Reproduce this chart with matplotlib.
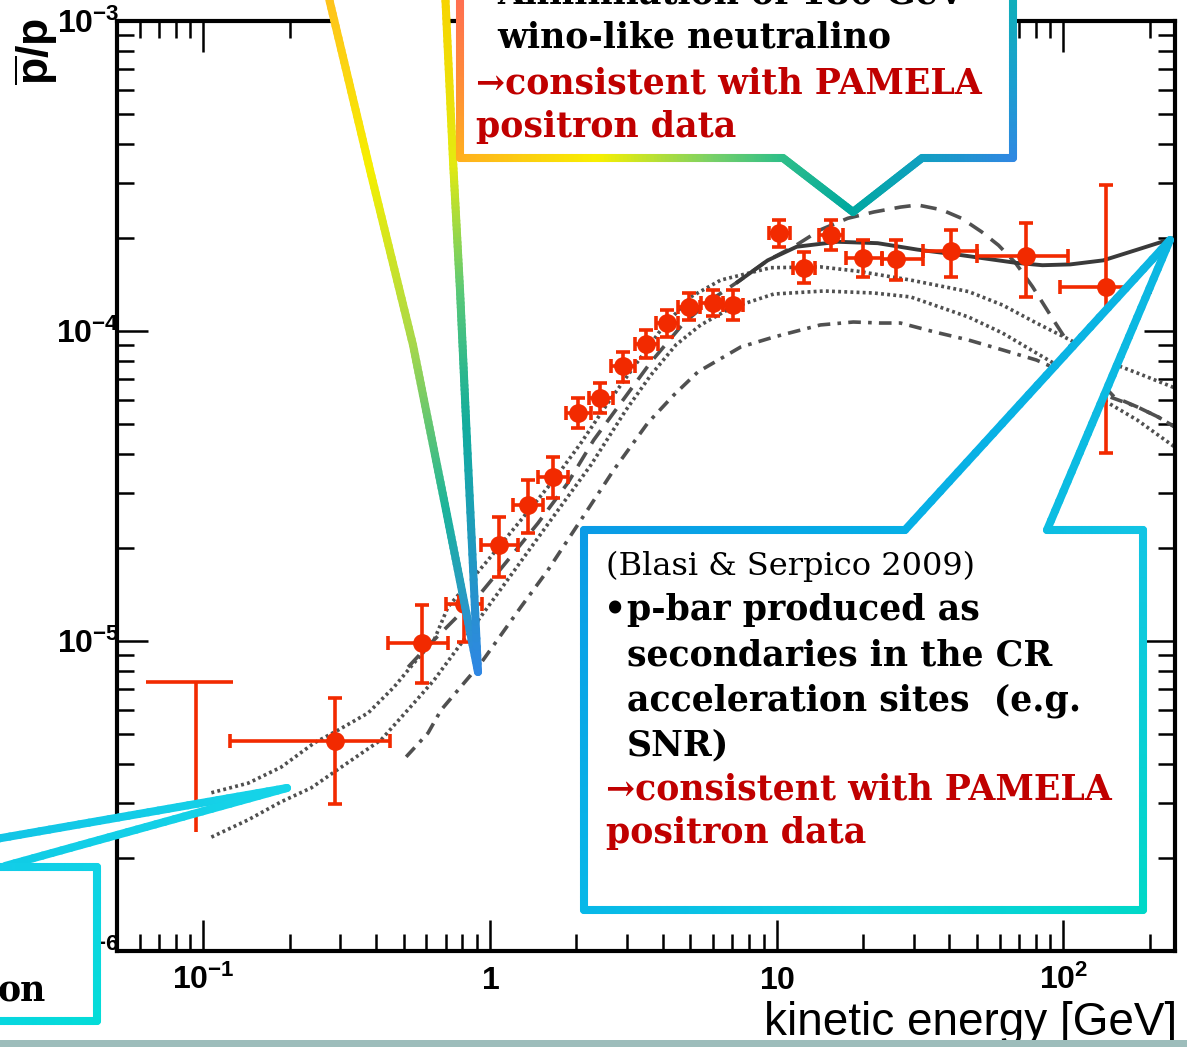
import numpy as np
import matplotlib
matplotlib.use("Agg")
import matplotlib.pyplot as plt
from matplotlib.collections import LineCollection
from matplotlib.patches import Polygon, Rectangle
from matplotlib.colors import to_rgb
from matplotlib.ticker import FixedLocator, FixedFormatter, LogLocator, NullFormatter

plt.rcParams["mathtext.fontset"] = "custom"
plt.rcParams["mathtext.rm"] = "Liberation Sans"
plt.rcParams["mathtext.it"] = "Liberation Sans:italic"
plt.rcParams["mathtext.bf"] = "Liberation Sans:bold"

# --- measured p-bar/p ratio ---
energy = [0.288, 0.579, 0.812, 1.075, 1.356, 1.658, 2.03, 2.42, 2.91, 3.50, 4.14,
          4.94, 5.98, 7.03, 10.16, 12.42, 15.42, 19.94, 25.97, 40.4, 74.3, 141]
energy_lo = [0.124, 0.441, 0.703, 0.930, 1.20, 1.47, 1.84, 2.21, 2.64, 3.20, 3.79,
             4.52, 5.43, 6.48, 9.38, 11.37, 14.0, 17.39, 23.2, 32.3, 49.8, 97.6]
energy_hi = [0.449, 0.714, 0.938, 1.252, 1.53, 1.87, 2.25, 2.68, 3.20, 3.85, 4.52,
             5.39, 6.48, 7.61, 11.10, 13.56, 16.98, 23.2, 32.3, 49.8, 104.1, 201]
ratio = [4.76e-6, 9.86e-6, 1.32e-5, 2.04e-5, 2.75e-5, 3.38e-5, 5.44e-5, 6.08e-5, 7.71e-5,
         9.08e-5, 1.061e-4, 1.195e-4, 1.231e-4, 1.213e-4, 2.07e-4, 1.60e-4, 2.04e-4,
         1.72e-4, 1.71e-4, 1.81e-4, 1.75e-4, 1.39e-4]
ratio_hi = [6.55e-6, 1.31e-5, 1.39e-5, 2.51e-5, 3.31e-5, 3.92e-5, 6.08e-5, 6.8e-5, 8.56e-5,
            1.007e-4, 1.169e-4, 1.326e-4, 1.356e-4, 1.356e-4, 2.28e-4, 1.80e-4, 2.28e-4,
            1.97e-4, 1.97e-4, 2.12e-4, 2.23e-4, 2.96e-4]
ratio_lo = [2.98e-6, 7.32e-6, 9.93e-6, 1.61e-5, 2.23e-5, 2.89e-5, 4.87e-5, 5.44e-5, 6.85e-5,
            8.18e-5, 9.56e-5, 1.085e-4, 1.118e-4, 1.085e-4, 1.87e-4, 1.43e-4, 1.83e-4,
            1.49e-4, 1.46e-4, 1.49e-4, 1.29e-4, 4.04e-5]

# lowest-energy bin (limit)
ul_energy, ul_lo, ul_hi = 0.0946, 0.0633, 0.127
ul_ratio, ul_bottom = 7.38e-6, 2.42e-6

# --- model curves ---
upper_e = [0.1067, 0.1435, 0.187, 0.2437, 0.2954, 0.3758, 0.463, 0.543, 0.638, 0.714, 0.984,
           1.282, 1.671, 2.075, 2.577, 3.175, 3.94, 5.01, 6.38, 9.53, 14.2, 19.1, 29.3, 46.7,
           61.3, 80.5, 105.7, 137.7, 181, 245]
upper_r = [3.24e-6, 3.48e-6, 3.92e-6, 4.69e-6, 5.16e-6, 5.86e-6, 7.11e-6, 8.49e-6, 1.007e-5,
           1.288e-5, 1.824e-5, 2.456e-5, 3.31e-5, 4.35e-5, 5.86e-5, 7.66e-5, 1.007e-4, 1.288e-4,
           1.46e-4, 1.60e-4, 1.61e-4, 1.56e-4, 1.46e-4, 1.34e-4, 1.213e-4, 1.061e-4, 9.35e-5,
           8.06e-5, 7.32e-5, 6.55e-5]

middle_e = [0.1067, 0.1435, 0.187, 0.238, 0.303, 0.417, 0.543, 0.638, 0.859, 1.183, 1.63, 2.25,
            2.98, 3.64, 4.45, 5.43, 6.92, 9.76, 14.6, 21.8, 29.3, 46.7, 61.3, 80.5, 105.7,
            137.7, 181, 245]
middle_r = [2.33e-6, 2.65e-6, 3.03e-6, 3.36e-6, 3.92e-6, 4.80e-6, 6.31e-6, 7.48e-6, 1.085e-5,
            1.63e-5, 2.456e-5, 3.70e-5, 5.56e-5, 7.21e-5, 9.02e-5, 1.046e-4, 1.186e-4, 1.316e-4,
            1.346e-4, 1.326e-4, 1.288e-4, 1.109e-4, 9.85e-5, 8.49e-5, 7.32e-5, 5.99e-5, 5.16e-5,
            4.22e-5]

wino_e = [0.518, 0.589, 0.749, 0.930, 1.155, 1.47, 1.87, 2.30, 2.86, 3.64, 4.74, 5.89, 7.31,
          9.30, 11.46, 14.2, 17.7, 21.8, 27.0, 31.0, 37.6, 44.1, 51.8, 59.4, 68.0, 78.0, 92.3,
          102.4, 124.1, 150.6, 181, 214, 245]
wino_r = [8.24e-6, 9.36e-6, 1.17e-5, 1.43e-5, 1.824e-5, 2.40e-5, 3.24e-5, 4.45e-5, 5.86e-5,
          7.94e-5, 1.061e-4, 1.259e-4, 1.44e-4, 1.69e-4, 1.87e-4, 2.12e-4, 2.31e-4, 2.42e-4,
          2.51e-4, 2.55e-4, 2.46e-4, 2.31e-4, 2.09e-4, 1.89e-4, 1.66e-4, 1.39e-4, 1.085e-4,
          9.35e-5, 7.38e-5, 6.12e-5, 5.69e-5, 5.28e-5, 4.90e-5]

snr_e = [7.31, 9.30, 11.74, 16.3, 22.5, 31.0, 43.4, 68.0, 84.5, 105.7, 137.7, 181, 245]
snr_r = [1.44e-4, 1.69e-4, 1.87e-4, 1.94e-4, 1.92e-4, 1.83e-4, 1.76e-4, 1.66e-4, 1.63e-4,
         1.64e-4, 1.69e-4, 1.83e-4, 2.00e-4]

lower_e = [0.510, 0.608, 0.675, 0.930, 1.282, 1.59, 2.075, 2.70, 3.55, 4.38, 5.31, 7.49, 9.76,
           14.2, 18.5, 23.0, 27.0, 35.5, 46.7, 61.3, 80.5, 105.7, 145.8, 181, 214, 245]
lower_r = [4.23e-6, 5.05e-6, 5.99e-6, 8.49e-6, 1.288e-5, 1.69e-5, 2.456e-5, 3.56e-5, 5.05e-5,
           6.22e-5, 7.38e-5, 8.88e-5, 9.56e-5, 1.046e-4, 1.069e-4, 1.061e-4, 1.061e-4, 9.93e-5,
           9.35e-5, 8.69e-5, 8.06e-5, 7.21e-5, 6.12e-5, 5.69e-5, 5.28e-5, 4.90e-5]

x_ticks = [0.1, 1, 10, 100]
x_ticklabels = [r"$\mathbf{10^{-1}}$", r"$\mathbf{1}$", r"$\mathbf{10}$", r"$\mathbf{10^{2}}$"]
y_ticks = [1e-6, 1e-5, 1e-4, 1e-3]
y_ticklabels = [r"$\mathbf{10^{-6}}$", r"$\mathbf{10^{-5}}$", r"$\mathbf{10^{-4}}$",
                r"$\mathbf{10^{-3}}$"]

RED = "#f22a00"
W, H = 1187, 1047

fig = plt.figure(figsize=(W / 100, H / 100), dpi=100)
ax = fig.add_axes([117 / W, 1 - 951 / H, (1175 - 117) / W, (951 - 21) / H])
ax.set_xscale("log")
ax.set_yscale("log")
ax.set_xlim(0.05, 245)
ax.set_ylim(1e-6, 1e-3)

curve_kw = dict(color="#505050", lw=2.6)
ax.plot(upper_e, upper_r, linestyle=(0, (0.8, 0.9)), **curve_kw)
ax.plot(middle_e, middle_r, linestyle=(0, (0.8, 0.9)), **curve_kw)
ax.plot(lower_e, lower_r, linestyle=(0, (3.5, 2, 1, 2)), **curve_kw)
ax.plot(wino_e, wino_r, linestyle=(0, (4.5, 2.8)), **curve_kw)
ax.plot(snr_e, snr_r, color="#3a3a3a", lw=2.8)

energy = np.array(energy)
ratio = np.array(ratio)
xerr = [energy - np.array(energy_lo), np.array(energy_hi) - energy]
yerr = [ratio - np.array(ratio_lo), np.array(ratio_hi) - ratio]
ax.errorbar(energy, ratio, xerr=xerr, yerr=yerr, fmt="o", color=RED, ms=12.5,
            elinewidth=2.6, capsize=5, capthick=2.6, zorder=4)
ax.errorbar([ul_energy], [ul_ratio],
            xerr=[[ul_energy - ul_lo], [ul_hi - ul_energy]],
            yerr=[[ul_ratio - ul_bottom], [0]],
            fmt="none", ecolor=RED, elinewidth=2.6, capsize=0, zorder=4)

ax.xaxis.set_major_locator(FixedLocator(x_ticks))
ax.xaxis.set_major_formatter(FixedFormatter(x_ticklabels))
ax.yaxis.set_major_locator(FixedLocator(y_ticks))
ax.yaxis.set_major_formatter(FixedFormatter(y_ticklabels))
for a in (ax.xaxis, ax.yaxis):
    a.set_minor_locator(LogLocator(base=10, subs=np.arange(2, 10), numticks=20))
    a.set_minor_formatter(NullFormatter())
ax.tick_params(which="both", direction="in", top=True, right=True, width=1.8)
ax.tick_params(which="major", length=22, labelsize=23)
ax.tick_params(which="minor", length=12)
ax.tick_params(axis="x", pad=10)
ax.tick_params(axis="y", pad=-2)
for s in ax.spines.values():
    s.set_linewidth(3)

fig.text(36 / W, 1 - 52 / H, r"$\mathbf{\overline{p}/p}$", rotation=90,
         fontsize=32, ha="center", va="center")
fig.text(1177 / W, 1 - 1035 / H, "kinetic energy [GeV]", fontsize=33,
         family="Liberation Sans", ha="right", va="baseline")

# --- callouts drawn on a pixel overlay ---
ov = fig.add_axes([0, 0, 1, 1], zorder=5)
ov.set_xlim(0, W)
ov.set_ylim(H, 0)
ov.axis("off")
ov.patch.set_alpha(0)


def grad_path(pts, cols, lw=5.8, n=30):
    segs, seg_cols = [], []
    for p0, p1, c0, c1 in zip(pts[:-1], pts[1:], cols[:-1], cols[1:]):
        c0, c1 = np.array(to_rgb(c0)), np.array(to_rgb(c1))
        t = np.linspace(0, 1, n + 1)
        xs = p0[0] + (p1[0] - p0[0]) * t
        ys = p0[1] + (p1[1] - p0[1]) * t
        for i in range(n):
            segs.append([(xs[i], ys[i]), (xs[i + 1], ys[i + 1])])
            seg_cols.append(c0 + (c1 - c0) * (t[i] + t[i + 1]) / 2)
    ov.add_collection(LineCollection(segs, colors=seg_cols, linewidths=lw,
                                     capstyle="round", joinstyle="round"))


def fill(pts):
    ov.add_patch(Polygon(pts, closed=True, facecolor="white", edgecolor="none"))


# wino callout (top)
fill([(327, -10), (478, 672), (445, -10)])
fill([(460, -10), (460, 158), (783, 158), (853, 212), (922, 158), (1013, 158), (1013, -10)])
grad_path([(327, -10), (370, 170), (413, 345), (446, 510), (478, 672)],
          ["#ffbf1f", "#f6ef00", "#a8d84a", "#1cb49a", "#2f86e4"])
grad_path([(478, 672), (466, 420), (460, 290), (453, 160), (445, -10)],
          ["#2f86e4", "#12ad9c", "#58c878", "#e4ea10", "#f8d300"])
grad_path([(460, -10), (460, 80), (460, 158), (600, 158), (715, 158), (783, 158), (853, 212),
           (922, 158), (1013, 158), (1013, 80), (1013, -10)],
          ["#ff6a55", "#ff8a3a", "#ffae20", "#f8f000", "#78d068", "#30bf88", "#00a8a0",
           "#10a0c0", "#3088e2", "#1a9fd0", "#10b0b8"])

serif = "DejaVu Serif"
tk = dict(family=serif, fontsize=25, fontweight="bold", va="baseline")
ov.text(477, 3, "\u2022", **tk)
ov.text(497, 3, "Annihilation of 180 GeV", **tk)
ov.text(497, 48, "wino-like neutralino", **tk)
ov.text(476, 93, "\u2192consistent with PAMELA", color="#c00000", **tk)
ov.text(476, 137, "positron data", color="#c00000", **tk)

# Blasi & Serpico callout (right)
fill([(584, 530), (905, 530), (1170, 240), (1047, 530), (1143, 530), (1143, 910), (584, 910)])
grad_path([(584, 530), (905, 530), (1170, 240), (1047, 530), (1143, 530), (1143, 910),
           (860, 910), (584, 910), (584, 530)],
          ["#0a9be6", "#06afe6", "#0cb6e2", "#0cbde2", "#12c4e4", "#00d8c8", "#0ccfe0",
           "#08b8e8", "#0a9be6"])
ov.text(606, 575, "(Blasi & Serpico 2009)", family=serif, fontsize=23, va="baseline")
ov.text(604, 620, "\u2022", **tk)
ov.text(627, 620, "p-bar produced as", **tk)
ov.text(627, 665, "secondaries in the CR", **tk)
ov.text(627, 710, "acceleration sites  (e.g.", **tk)
ov.text(627, 755, "SNR)", **tk)
ov.text(606, 800, "\u2192consistent with PAMELA", color="#c00000", **tk)
ov.text(606, 843, "positron data", color="#c00000", **tk)

# lower-left callout
fill([(-10, 838), (287, 788), (5, 867)])
fill([(-10, 867), (97, 867), (97, 1021), (-10, 1021)])
grad_path([(-10, 840), (287, 788), (5, 866)], ["#12c4e6", "#16d4e8", "#10cce6"])
grad_path([(-10, 867), (97, 867), (97, 1021), (-10, 1021)],
          ["#12cce8", "#10d2e6", "#04dcd8", "#08d6e0"])
ov.text(-2, 1002, "on", **tk)

# slide footer band
ov.add_patch(Rectangle((0, 1040), W, 10, facecolor="#9dbdbb", edgecolor="none"))

fig.savefig("out.png", dpi=100)
